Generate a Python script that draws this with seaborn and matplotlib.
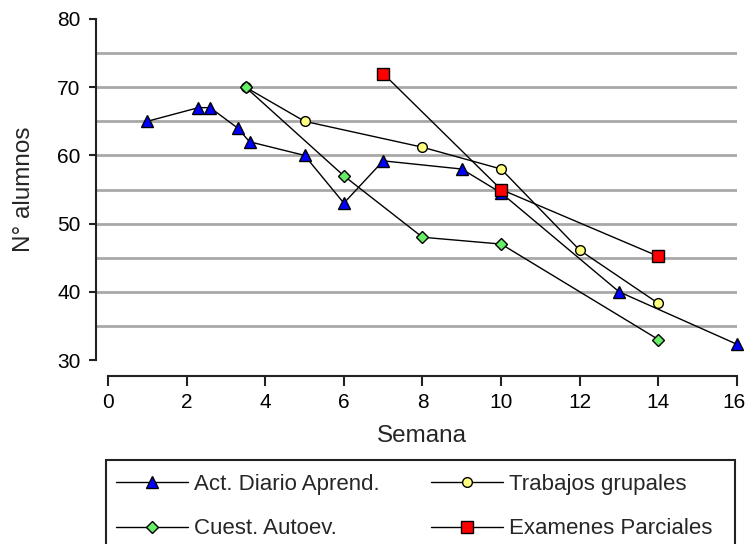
import matplotlib
matplotlib.use('Agg')
import matplotlib.pyplot as plt
from matplotlib.patches import Rectangle
from matplotlib.transforms import ScaledTranslation
import seaborn as sns

# Data
act_semana = [1, 2.3, 2.6, 3.3, 3.6, 5, 6, 7, 9, 10, 13, 16]
act_alumnos = [65, 67, 67, 64, 62, 60, 53, 59.2, 58, 54.5, 40, 32.3]

trab_semana = [3.5, 5, 8, 10, 12, 14]
trab_alumnos = [70, 65, 61.2, 58, 46.1, 38.3]

cuest_semana = [3.5, 6, 8, 10, 14]
cuest_alumnos = [70, 57, 48, 47, 33]

exam_semana = [7, 10, 14]
exam_alumnos = [72, 55, 45.2]

grid_levels = [35, 40, 45, 50, 55, 60, 65, 70, 75]

sns.set_style('white')
plt.rcParams['font.family'] = ['Liberation Sans', 'DejaVu Sans']

fig = plt.figure(figsize=(7.47, 5.44), dpi=100)
ax = fig.add_axes([96 / 747, 1 - 360 / 544, 641 / 747, 341 / 544])

for lvl in grid_levels:
    ax.axhline(lvl, color='#a8a8a8', lw=2, zorder=0)

common = dict(color='black', lw=1, markeredgecolor='black', markeredgewidth=1,
              clip_on=False, zorder=3)
sns.lineplot(x=act_semana, y=act_alumnos, marker='^', markersize=9,
             markerfacecolor='#0000ff', label='Act. Diario Aprend.', ax=ax,
             sort=False, **common)
sns.lineplot(x=trab_semana, y=trab_alumnos, marker='o', markersize=7,
             markerfacecolor='#ffff80', label='Trabajos grupales', ax=ax,
             sort=False, **common)
sns.lineplot(x=cuest_semana, y=cuest_alumnos, marker='D', markersize=6,
             markerfacecolor='#66ee66', label='Cuest. Autoev.', ax=ax,
             sort=False, **common)
sns.lineplot(x=exam_semana, y=exam_alumnos, marker='s', markersize=8,
             markerfacecolor='#ff0000', label='Examenes Parciales', ax=ax,
             sort=False, **common)

ax.set_xlim(-0.305, 16)
ax.set_ylim(30, 80)
ax.set_xticks(range(0, 17, 2))
ax.set_yticks(range(30, 81, 10))

for s in ['top', 'right']:
    ax.spines[s].set_visible(False)
ax.spines['left'].set_color('#222222')
ax.spines['left'].set_linewidth(1.5)
ax.spines['bottom'].set_color('#222222')
ax.spines['bottom'].set_linewidth(1.5)
ax.spines['bottom'].set_position(('outward', 11.5))
ax.spines['bottom'].set_bounds(0, 16)

ax.tick_params(axis='both', which='major', labelsize=15, colors='#222222',
               labelcolor='black', width=1.5)
ax.tick_params(axis='y', direction='out', length=5, left=True, pad=6)
ax.tick_params(axis='x', direction='out', length=7, bottom=True, pad=5)

# keep the last x label inside the picture
last = ax.get_xticklabels()[-1]
last.set_transform(last.get_transform() + ScaledTranslation(-3 / 100, 0, fig.dpi_scale_trans))

ax.set_xlabel('Semana', fontsize=17.5)
ax.xaxis.set_label_coords(0.509, -0.19)
ax.set_ylabel('N° alumnos', fontsize=17.5, labelpad=16)

handles, labels = ax.get_legend_handles_labels()
ax.get_legend().remove()
order = [0, 2, 1, 3]
fig.legend([handles[i] for i in order], [labels[i] for i in order],
           loc='upper left', ncol=2, bbox_to_anchor=(106 / 747, 1 - 464 / 544),
           fontsize=16, frameon=False, handlelength=3.25, handletextpad=0.27,
           columnspacing=2.3, labelspacing=1.05, borderpad=0.45,
           borderaxespad=0)
fig.patches.append(Rectangle((106 / 747, -0.1), 629 / 747, 0.1 + 84 / 544,
                             transform=fig.transFigure, fill=False,
                             edgecolor='#222222', lw=1.5))

fig.savefig('out.png', dpi=100)
